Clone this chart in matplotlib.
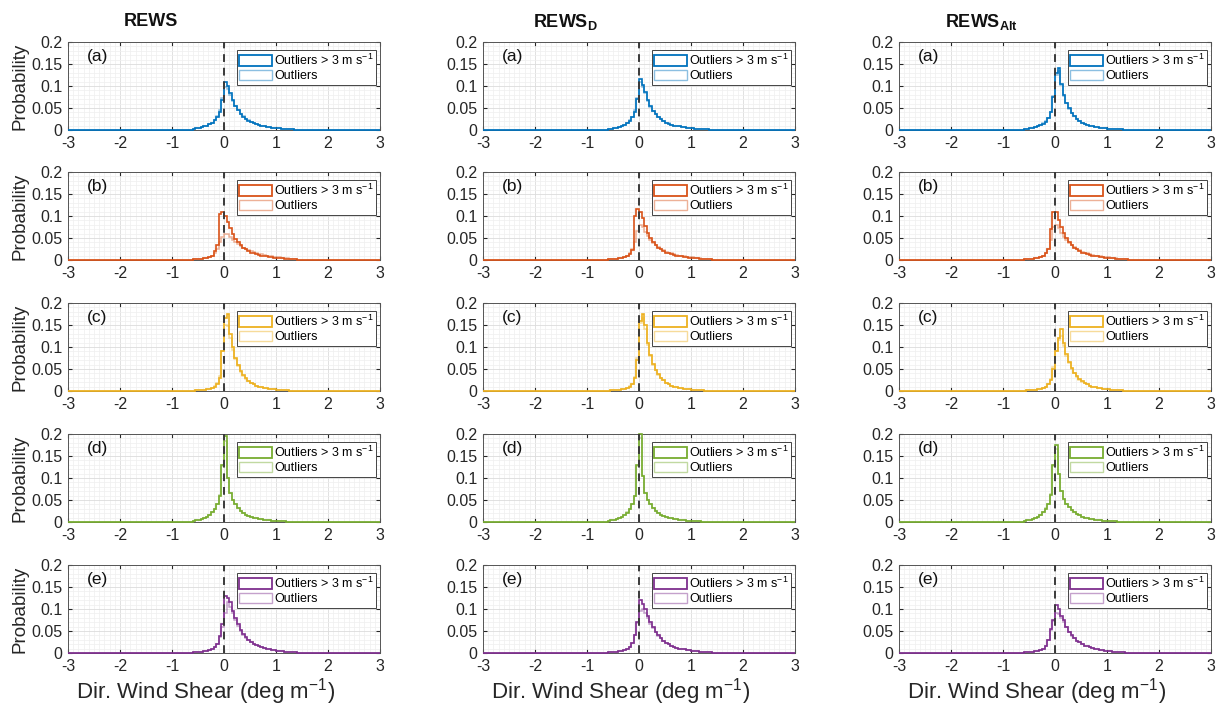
import numpy as np
import matplotlib
matplotlib.use("Agg")
import matplotlib.pyplot as plt
from matplotlib.patches import Patch
from matplotlib.ticker import MultipleLocator

plt.rcParams['font.family'] = ['Liberation Sans', 'DejaVu Sans']
plt.rcParams['mathtext.fontset'] = 'custom'
plt.rcParams['mathtext.rm'] = 'Liberation Sans'
plt.rcParams['mathtext.bf'] = 'Liberation Sans:bold'
plt.rcParams['mathtext.default'] = 'regular'
plt.rcParams['axes.unicode_minus'] = False

# histogram bins: 0.05 deg/m wide, from -0.6 to 1.4 (zero outside)
bin_lo, bin_hi, n_bins = -0.6, 1.4, 40

col_titles = ['REWS', r'REWS$_{\mathbf{D}}$', r'REWS$_{\mathbf{Alt}}$']
row_tags = ['(a)', '(b)', '(c)', '(d)', '(e)']
row_colors = ['#0072BD', '#D95319', '#EDB120', '#77AC30', '#7E2F8E']

# probability per bin, "outliers > 3 m/s" removed (hi) and all outliers removed (all)
a1_hi = [0.003,0.004,0.005,0.006,0.008,0.010,0.013,0.017,0.022,0.030,0.042,0.068,
         0.110,0.100,0.085,0.068,0.055,0.045,0.037,0.030,0.025,0.021,0.018,0.015,0.013,0.011,
         0.009,0.008,0.007,0.006,0.005,0.005,0.004,0.004,0.003,0.003,0.002,0.002,0.002,0.001]
a1_all = [0.003,0.004,0.005,0.006,0.008,0.010,0.013,0.017,0.023,0.032,0.046,0.072,
          0.098,0.094,0.080,0.066,0.054,0.045,0.037,0.031,0.026,0.022,0.018,0.016,0.013,0.011,
          0.010,0.008,0.007,0.006,0.005,0.005,0.004,0.004,0.003,0.003,0.002,0.002,0.002,0.001]
a2_hi = [0.002,0.003,0.004,0.005,0.007,0.009,0.012,0.016,0.021,0.029,0.042,0.070,
         0.115,0.103,0.086,0.068,0.054,0.044,0.036,0.029,0.024,0.020,0.017,0.014,0.012,0.010,
         0.009,0.008,0.007,0.006,0.005,0.004,0.004,0.003,0.003,0.003,0.002,0.002,0.002,0.001]
a2_all = [0.002,0.003,0.004,0.005,0.007,0.009,0.012,0.016,0.022,0.030,0.045,0.073,
          0.108,0.098,0.083,0.066,0.053,0.044,0.036,0.030,0.025,0.021,0.017,0.015,0.012,0.010,
          0.009,0.008,0.007,0.006,0.005,0.004,0.004,0.003,0.003,0.003,0.002,0.002,0.002,0.001]
a3_hi = [0.002,0.003,0.004,0.005,0.006,0.008,0.011,0.014,0.019,0.027,0.040,0.075,
         0.130,0.140,0.105,0.080,0.062,0.049,0.039,0.031,0.025,0.021,0.017,0.014,0.012,0.010,
         0.008,0.007,0.006,0.005,0.005,0.004,0.003,0.003,0.003,0.002,0.002,0.002,0.001,0.001]
a3_all = [0.002,0.003,0.004,0.005,0.006,0.008,0.011,0.015,0.020,0.028,0.042,0.078,
          0.125,0.133,0.102,0.078,0.061,0.048,0.039,0.031,0.025,0.021,0.017,0.014,0.012,0.010,
          0.008,0.007,0.006,0.005,0.005,0.004,0.003,0.003,0.003,0.002,0.002,0.002,0.001,0.001]

b1_hi = [0.002,0.002,0.003,0.003,0.004,0.005,0.006,0.008,0.020,0.035,0.105,0.110,
         0.100,0.087,0.072,0.058,0.048,0.040,0.033,0.028,0.024,0.020,0.017,0.015,0.013,0.011,
         0.010,0.009,0.008,0.007,0.006,0.005,0.005,0.004,0.004,0.003,0.003,0.002,0.002,0.002]
b1_all = [0.002,0.002,0.003,0.003,0.004,0.005,0.007,0.010,0.016,0.026,0.040,0.052,
          0.060,0.058,0.052,0.046,0.041,0.036,0.032,0.028,0.025,0.022,0.020,0.018,0.016,0.014,
          0.013,0.011,0.010,0.009,0.008,0.007,0.006,0.006,0.005,0.004,0.004,0.003,0.003,0.002]
b2_hi = [0.002,0.002,0.003,0.003,0.004,0.005,0.007,0.009,0.013,0.022,0.100,0.115,
         0.110,0.095,0.078,0.062,0.050,0.041,0.034,0.028,0.024,0.020,0.017,0.015,0.013,0.011,
         0.010,0.009,0.008,0.007,0.006,0.005,0.005,0.004,0.004,0.003,0.003,0.002,0.002,0.002]
b2_all = [0.002,0.002,0.003,0.003,0.004,0.005,0.007,0.010,0.015,0.024,0.040,0.065,
          0.080,0.075,0.064,0.054,0.046,0.039,0.033,0.029,0.025,0.022,0.019,0.017,0.015,0.013,
          0.012,0.010,0.009,0.008,0.007,0.006,0.006,0.005,0.004,0.004,0.003,0.003,0.003,0.002]
b3_hi = [0.002,0.002,0.003,0.003,0.004,0.005,0.007,0.010,0.015,0.025,0.070,0.110,
         0.108,0.090,0.075,0.062,0.050,0.041,0.034,0.028,0.024,0.020,0.017,0.015,0.013,0.011,
         0.010,0.009,0.008,0.007,0.006,0.005,0.005,0.004,0.004,0.003,0.003,0.002,0.002,0.002]
b3_all = [0.002,0.002,0.003,0.003,0.004,0.005,0.007,0.010,0.015,0.024,0.045,0.075,
          0.080,0.072,0.062,0.053,0.045,0.038,0.033,0.029,0.025,0.022,0.019,0.017,0.015,0.013,
          0.012,0.010,0.009,0.008,0.007,0.006,0.006,0.005,0.004,0.004,0.003,0.003,0.003,0.002]

c1_hi = [0.001,0.002,0.002,0.003,0.003,0.004,0.005,0.007,0.010,0.016,0.030,0.090,
         0.165,0.175,0.130,0.100,0.075,0.058,0.045,0.036,0.029,0.023,0.018,0.015,0.012,0.010,
         0.008,0.007,0.006,0.005,0.004,0.004,0.003,0.003,0.002,0.002,0.002,0.001,0.001,0.001]
c1_all = [0.001,0.002,0.002,0.003,0.003,0.004,0.005,0.007,0.011,0.018,0.035,0.090,
          0.150,0.148,0.120,0.094,0.072,0.056,0.044,0.035,0.028,0.023,0.018,0.015,0.012,0.010,
          0.008,0.007,0.006,0.005,0.004,0.004,0.003,0.003,0.002,0.002,0.002,0.001,0.001,0.001]
c2_hi = [0.001,0.002,0.002,0.003,0.003,0.004,0.005,0.007,0.010,0.016,0.030,0.070,
         0.160,0.175,0.150,0.110,0.082,0.062,0.048,0.038,0.030,0.024,0.019,0.015,0.012,0.010,
         0.008,0.007,0.006,0.005,0.004,0.004,0.003,0.003,0.002,0.002,0.002,0.001,0.001,0.001]
c2_all = [0.001,0.002,0.002,0.003,0.003,0.004,0.005,0.007,0.011,0.017,0.032,0.075,
          0.155,0.165,0.140,0.105,0.080,0.060,0.047,0.037,0.030,0.024,0.019,0.015,0.012,0.010,
          0.008,0.007,0.006,0.005,0.004,0.004,0.003,0.003,0.002,0.002,0.002,0.001,0.001,0.001]
c3_hi = [0.001,0.002,0.002,0.003,0.003,0.004,0.005,0.007,0.010,0.015,0.025,0.050,
         0.090,0.120,0.140,0.110,0.085,0.066,0.052,0.041,0.033,0.027,0.022,0.018,0.015,0.012,
         0.010,0.008,0.007,0.006,0.005,0.004,0.004,0.003,0.003,0.002,0.002,0.002,0.001,0.001]
c3_all = [0.001,0.002,0.002,0.003,0.003,0.004,0.005,0.007,0.010,0.016,0.027,0.055,
          0.090,0.115,0.125,0.102,0.080,0.063,0.050,0.040,0.032,0.026,0.021,0.018,0.015,0.012,
          0.010,0.008,0.007,0.006,0.005,0.004,0.004,0.003,0.003,0.002,0.002,0.002,0.001,0.001]

d1_hi = [0.003,0.004,0.005,0.007,0.009,0.012,0.016,0.022,0.030,0.040,0.060,0.130,
         0.195,0.100,0.065,0.050,0.040,0.032,0.026,0.021,0.017,0.014,0.012,0.010,0.008,0.007,
         0.006,0.005,0.004,0.004,0.003,0.003,0.002,0.002,0.002,0.002,0.001,0.001,0.001,0.001]
d1_all = [0.003,0.004,0.005,0.007,0.009,0.012,0.016,0.022,0.030,0.041,0.062,0.128,
          0.185,0.100,0.066,0.050,0.040,0.032,0.026,0.021,0.017,0.014,0.012,0.010,0.008,0.007,
          0.006,0.005,0.004,0.004,0.003,0.003,0.002,0.002,0.002,0.002,0.001,0.001,0.001,0.001]
d2_hi = [0.003,0.004,0.005,0.007,0.009,0.012,0.016,0.021,0.029,0.040,0.058,0.130,
         0.200,0.105,0.066,0.050,0.040,0.032,0.026,0.021,0.017,0.014,0.012,0.010,0.008,0.007,
         0.006,0.005,0.004,0.004,0.003,0.003,0.002,0.002,0.002,0.002,0.001,0.001,0.001,0.001]
d2_all = [0.003,0.004,0.005,0.007,0.009,0.012,0.016,0.022,0.030,0.041,0.060,0.128,
          0.190,0.104,0.066,0.050,0.040,0.032,0.026,0.021,0.017,0.014,0.012,0.010,0.008,0.007,
          0.006,0.005,0.004,0.004,0.003,0.003,0.002,0.002,0.002,0.002,0.001,0.001,0.001,0.001]
d3_hi = [0.003,0.004,0.005,0.007,0.009,0.012,0.016,0.022,0.030,0.041,0.062,0.130,
         0.175,0.110,0.070,0.052,0.041,0.033,0.027,0.022,0.018,0.015,0.012,0.010,0.008,0.007,
         0.006,0.005,0.004,0.004,0.003,0.003,0.002,0.002,0.002,0.002,0.001,0.001,0.001,0.001]
d3_all = [0.003,0.004,0.005,0.007,0.009,0.012,0.016,0.022,0.031,0.042,0.064,0.128,
          0.165,0.108,0.070,0.052,0.041,0.033,0.027,0.022,0.018,0.015,0.012,0.010,0.008,0.007,
          0.006,0.005,0.004,0.004,0.003,0.003,0.002,0.002,0.002,0.002,0.001,0.001,0.001,0.001]

e1_hi = [0.002,0.002,0.003,0.003,0.004,0.005,0.007,0.009,0.013,0.020,0.038,0.065,
         0.130,0.125,0.115,0.095,0.080,0.065,0.052,0.043,0.036,0.030,0.025,0.021,0.018,0.015,
         0.013,0.011,0.009,0.008,0.007,0.006,0.005,0.004,0.004,0.003,0.003,0.002,0.002,0.002]
e1_all = [0.002,0.002,0.003,0.003,0.004,0.005,0.007,0.009,0.013,0.020,0.036,0.060,
          0.090,0.115,0.105,0.090,0.075,0.062,0.051,0.042,0.035,0.030,0.025,0.021,0.018,0.015,
          0.013,0.011,0.009,0.008,0.007,0.006,0.005,0.004,0.004,0.003,0.003,0.002,0.002,0.002]
e2_hi = [0.002,0.002,0.003,0.003,0.004,0.005,0.007,0.010,0.014,0.022,0.040,0.070,
         0.120,0.112,0.100,0.085,0.070,0.058,0.048,0.040,0.033,0.028,0.023,0.020,0.017,0.014,
         0.012,0.010,0.009,0.008,0.007,0.006,0.005,0.004,0.004,0.003,0.003,0.002,0.002,0.002]
e2_all = [0.002,0.002,0.003,0.003,0.004,0.005,0.007,0.010,0.014,0.022,0.040,0.068,
          0.095,0.100,0.092,0.080,0.067,0.056,0.047,0.039,0.033,0.028,0.023,0.020,0.017,0.014,
          0.012,0.010,0.009,0.008,0.007,0.006,0.005,0.004,0.004,0.003,0.003,0.002,0.002,0.002]
e3_hi = [0.002,0.002,0.003,0.003,0.004,0.005,0.007,0.010,0.016,0.030,0.055,0.075,
         0.110,0.100,0.085,0.075,0.060,0.048,0.040,0.033,0.028,0.024,0.020,0.017,0.015,0.013,
         0.011,0.009,0.008,0.007,0.006,0.005,0.004,0.004,0.003,0.003,0.002,0.002,0.002,0.001]
e3_all = [0.002,0.002,0.003,0.003,0.004,0.005,0.007,0.010,0.016,0.030,0.052,0.072,
          0.090,0.088,0.080,0.070,0.058,0.047,0.039,0.033,0.028,0.024,0.020,0.017,0.015,0.013,
          0.011,0.009,0.008,0.007,0.006,0.005,0.004,0.004,0.003,0.003,0.002,0.002,0.002,0.001]

panels = [[(a1_hi, a1_all), (a2_hi, a2_all), (a3_hi, a3_all)],
          [(b1_hi, b1_all), (b2_hi, b2_all), (b3_hi, b3_all)],
          [(c1_hi, c1_all), (c2_hi, c2_all), (c3_hi, c3_all)],
          [(d1_hi, d1_all), (d2_hi, d2_all), (d3_hi, d3_all)],
          [(e1_hi, e1_all), (e2_hi, e2_all), (e3_hi, e3_all)]]

W, H = 1225, 715
fig = plt.figure(figsize=(W / 100, H / 100), dpi=100)

col_left = [68, 483, 899]
row_top = [42, 172, 303, 434, 565]
ax_w, ax_h = 312, 88
edges = np.concatenate([[-3], np.linspace(bin_lo, bin_hi, n_bins + 1), [3]])
txt = '#262626'

for r in range(5):
    for c in range(3):
        hi, allv = panels[r][c]
        ax = fig.add_axes([col_left[c] / W, 1 - (row_top[r] + ax_h) / H, ax_w / W, ax_h / H])
        color = row_colors[r]
        # light line: every outlier removed, dark line: only outliers > 3 m/s removed
        ax.stairs(np.concatenate([[0], allv, [0]]), edges, color=color, alpha=0.45, lw=1.1,
                  clip_on=False, zorder=3)
        ax.stairs(np.concatenate([[0], hi, [0]]), edges, color=color, lw=1.2,
                  clip_on=False, zorder=3.1)
        ax.plot([0, 0], [0, 0.2], color='#3a3a3a', lw=1.4, ls=(0, (4, 3)), zorder=4)
        ax.set_xlim(-3, 3)
        ax.set_ylim(0, 0.2)
        ax.set_xticks([-3, -2, -1, 0, 1, 2, 3])
        ax.set_yticks([0, 0.05, 0.1, 0.15, 0.2])
        ax.set_yticklabels(['0', '0.05', '0.1', '0.15', '0.2'])
        ax.xaxis.set_minor_locator(MultipleLocator(0.1))
        ax.yaxis.set_minor_locator(MultipleLocator(0.01))
        ax.grid(which='major', color='#dcdcdc', lw=0.6)
        ax.grid(which='minor', color='#efefef', lw=0.5)
        ax.set_axisbelow(True)
        ax.tick_params(which='major', direction='in', length=3, top=True, right=True,
                       labelsize=11.5, colors=txt, pad=4)
        ax.tick_params(which='minor', length=0)
        for s in ax.spines.values():
            s.set_color('#555555')
            s.set_linewidth(0.7)
        ax.text(0.06, 0.83, row_tags[r], transform=ax.transAxes, fontsize=12.5,
                va='center', color='#111111')
        handles = [Patch(facecolor='white', edgecolor=color, lw=1.3),
                   Patch(facecolor='white', edgecolor=color, lw=1.0, alpha=0.45)]
        leg = ax.legend(handles, ['Outliers > 3 m s$^{-1}$', 'Outliers'], loc='upper right',
                        bbox_to_anchor=(1.0, 0.95), fontsize=9, frameon=True, fancybox=False,
                        framealpha=1, edgecolor='#444444', handlelength=2.6, handleheight=0.9,
                        handletextpad=0.2, labelspacing=0.15, borderpad=0.2, borderaxespad=0.3)
        leg.get_frame().set_linewidth(0.7)
        leg.set_zorder(5)
        if c == 0:
            ax.set_ylabel('Probability', fontsize=13.5, color=txt, labelpad=2)

title_x = [151, 565, 981]
for c in range(3):
    fig.text(title_x[c] / W, 1 - 22 / H, col_titles[c], fontsize=13, fontweight='bold',
             ha='center', va='center', color='#111111')
    fig.text((col_left[c] + ax_w / 2 - 18) / W, 1 - 692 / H, 'Dir. Wind Shear (deg m$^{-1}$)',
             fontsize=16, ha='center', va='center', color=txt)

fig.savefig('out.png', dpi=100)
